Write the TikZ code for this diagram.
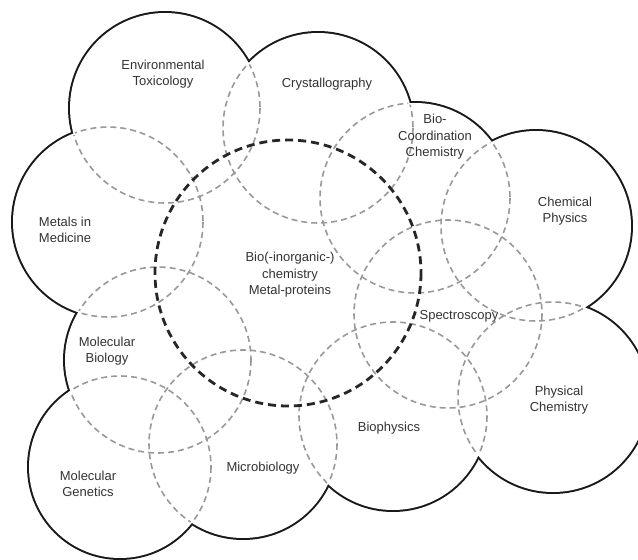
\documentclass[tikz,border=0pt]{standalone}
\usepackage{fontspec}
\setmainfont{Liberation Sans}
\usepackage{xcolor}
\usepackage{tikz}

% centre x / centre y / radius of the outer fields, in pixels of the sketch
\newcommand{\fieldlist}{165/108/95, 318/128/95, 415/198/95, 536/226/95, 108/222/95,
  448/314/94, 158/360/93, 553/397/95, 393/416/94, 243/444/94, 120/467/91}

\begin{document}
\begin{tikzpicture}[x=1pt,y=-1pt,
  field/.style={font=\fontsize{13}{16.5}\selectfont,text=black!80,align=center},
  overlap/.style={black!40,line width=1.6pt,dash pattern=on 6pt off 4pt},
  core/.style={black!85,line width=2.8pt,dash pattern=on 8pt off 5pt}]
  \useasboundingbox (0,0) rectangle (638,560);
  \clip (0,0) rectangle (638,560);
  \coordinate (core) at (288,273);
  % cloud outline: only the outer half of a thick stroke stays visible
  \foreach \cx/\cy/\r in \fieldlist
    \draw[black!90,line width=4pt] (\cx,\cy) circle[radius=\r];
  \fill[white] \foreach \cx/\cy/\r in \fieldlist {(\cx,\cy) circle[radius=\r]}
    (core) circle[radius=133];
  % overlaps inside the cloud
  \begin{scope}
    \clip \foreach \cx/\cy/\r in \fieldlist {(\cx,\cy) circle[radius=\r-1.5]}
      (core) circle[radius=131.5];
    \foreach \cx/\cy/\r in \fieldlist
      \draw[overlap] (\cx,\cy) circle[radius=\r];
  \end{scope}
  \draw[core] (core) circle[radius=133];

  \node[field] (envtox) at (163,74) {Environmental\\Toxicology};
  \node[field] (crystal) at (327,84) {Crystallography};
  \node[field] (biocoord) at (435,137) {Bio-\\Coordination\\Chemistry};
  \node[field] (chemphys) at (565,211) {Chemical\\Physics};
  \node[field] (metmed) at (65,230) {Metals in\\Medicine};
  \node[field] (bioinorg) at (290,275) {Bio(-inorganic-)\\chemistry\\Metal-proteins};
  \node[field] (spectro) at (459,316) {Spectroscopy};
  \node[field] (molbio) at (107,351) {Molecular\\Biology};
  \node[field] (physchem) at (559,400) {Physical\\Chemistry};
  \node[field] (biophys) at (389,428) {Biophysics};
  \node[field] (microbio) at (263,468) {Microbiology};
  \node[field] (molgen) at (88,484) {Molecular\\Genetics};
\end{tikzpicture}
\end{document}
